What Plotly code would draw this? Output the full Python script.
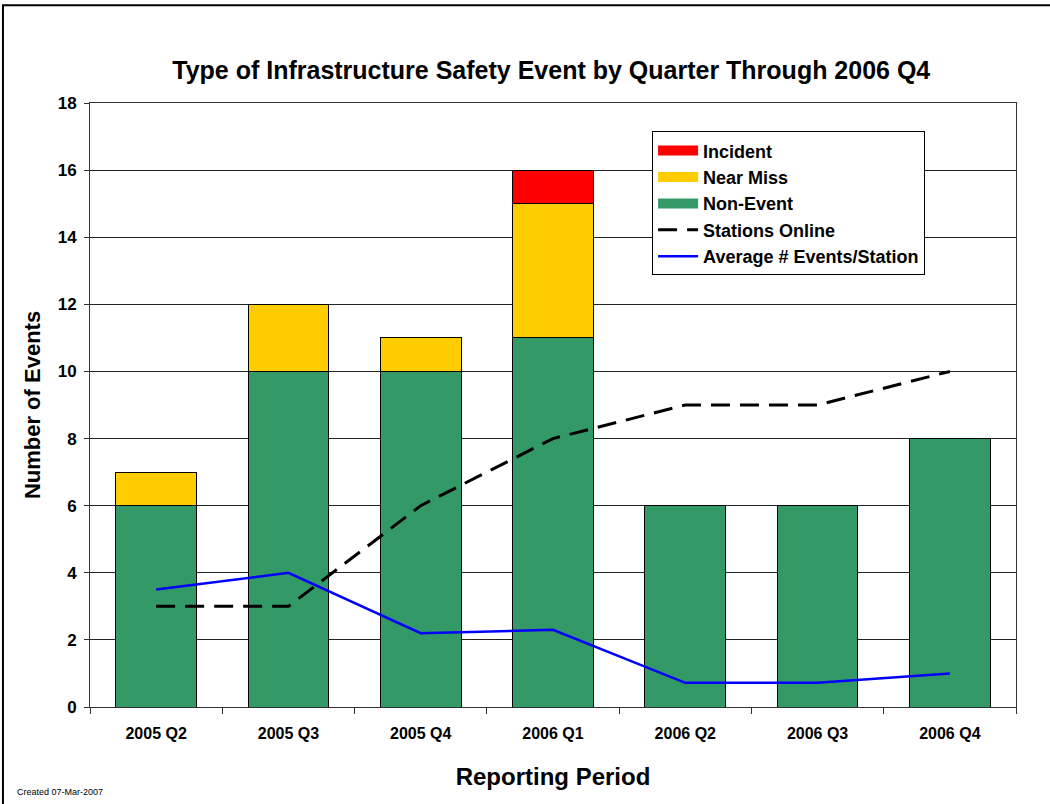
import plotly.graph_objects as go

# Chart data
quarters = ["2005 Q2", "2005 Q3", "2005 Q4", "2006 Q1", "2006 Q2", "2006 Q3", "2006 Q4"]
non_event = [6, 10, 10, 11, 6, 6, 8]
near_miss = [1, 2, 1, 4, 0, 0, 0]
incident = [0, 0, 0, 1, 0, 0, 0]
stations_online = [3, 3, 6, 8, 9, 9, 10]
avg_events_per_station = [3.5, 4.0, 2.2, 2.3, 0.72, 0.72, 1.0]
y_ticks = [0, 2, 4, 6, 8, 10, 12, 14, 16, 18]

FONT = "Liberation Sans, Arial, sans-serif"
GREEN, YELLOW, RED = "#339966", "#FFCC00", "#FF0000"

fig = go.Figure()

# stacked bars, bottom first (legend entries come from the dummy traces below)
for vals, name, col in [(non_event, "Non-Event", GREEN),
                        (near_miss, "Near Miss", YELLOW),
                        (incident, "Incident", RED)]:
    fig.add_trace(go.Bar(x=quarters, y=vals, name=name, showlegend=False,
                         marker=dict(color=col, line=dict(color="black", width=1))))

# legend swatches as wide blocks like the original
for rank, name, col in [(1, "Incident", RED), (2, "Near Miss", YELLOW), (3, "Non-Event", GREEN)]:
    fig.add_trace(go.Scatter(x=[None], y=[None], mode="lines", name="<b>%s</b>" % name,
                             legendrank=rank, hoverinfo="skip",
                             line=dict(color=col, width=12)))

fig.add_trace(go.Scatter(x=quarters, y=stations_online, name="<b>Stations Online</b>", legendrank=4,
                         mode="lines", line=dict(color="black", width=3, dash="19px,10px")))
fig.add_trace(go.Scatter(x=quarters, y=avg_events_per_station, name="<b>Average # Events/Station</b>",
                         legendrank=5, mode="lines", line=dict(color="#0000FF", width=2.5)))

fig.update_layout(
    width=1050, height=804,
    margin=dict(l=90, r=34, t=103, b=97),
    paper_bgcolor="white", plot_bgcolor="white",
    barmode="stack", bargap=0.39,
    font=dict(family=FONT, color="black"),
    title=dict(text="<b>Type of Infrastructure Safety Event by Quarter Through 2006 Q4</b>",
               x=0.525, xanchor="center", y=0.913, yanchor="middle",
               font=dict(size=25, family=FONT)),
    legend=dict(x=0.607, y=0.953, xanchor="left", yanchor="top",
                traceorder="normal", bgcolor="white", bordercolor="black", borderwidth=1,
                font=dict(size=18, family=FONT), tracegroupgap=0, itemwidth=40),
    showlegend=True,
)

fig.update_xaxes(
    title=dict(text="<b>Reporting Period</b>", font=dict(size=24), standoff=26),
    tickfont=dict(size=16), tickvals=quarters, ticktext=["<b>%s</b>" % q for q in quarters],
    ticks="outside", tickson="boundaries", ticklen=6, tickcolor="#333",
    ticklabelstandoff=12,
    showline=True, linecolor="#333", linewidth=1, mirror=True,
    showgrid=False,
)
fig.update_yaxes(
    title=dict(text="<b>Number of Events</b>", font=dict(size=22), standoff=10),
    range=[0, 18], tickvals=y_ticks, ticktext=["<b>%d</b>" % t for t in y_ticks],
    tickfont=dict(size=17),
    ticks="outside", ticklen=5, tickcolor="#333",
    ticklabelstandoff=4,
    showline=True, linecolor="#333", linewidth=1, mirror=True,
    showgrid=True, gridcolor="#222", gridwidth=1, zeroline=False,
)

# outer chart frame
fig.add_shape(type="rect", xref="paper", yref="paper",
              x0=-0.094, y0=-0.18, x1=1.05, y1=1.162,
              line=dict(color="black", width=2), fillcolor="rgba(0,0,0,0)", layer="below")

fig.add_annotation(text="Created 07-Mar-2007", xref="paper", yref="paper",
                   x=-0.081, y=-0.141, xanchor="left", yanchor="middle",
                   showarrow=False, font=dict(size=9, family=FONT))

# drop the default 8px page margin so the figure sits at the window's corner
fig.write_html("out.html", config={"displayModeBar": False},
               post_script="document.body.style.margin='0';")
